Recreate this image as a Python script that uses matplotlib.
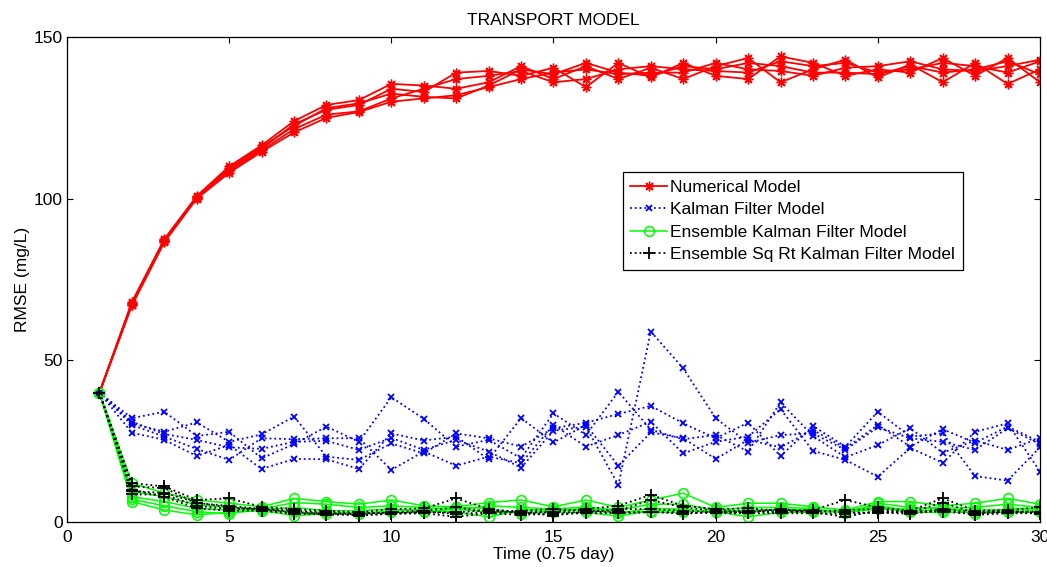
import matplotlib
matplotlib.use("Agg")
import matplotlib.pyplot as plt

plt.rcParams['font.family'] = ['Liberation Sans', 'DejaVu Sans']

# Time steps (units of 0.75 day)
time_steps = list(range(1, 31))

# RMSE (mg/L) of five runs for each model
numerical_runs = [
    [40, 68.0, 87.5, 100.8, 110.0, 116.5, 124.0, 129.0, 130.5, 135.5, 135.0, 134.0, 136.0, 141.0, 137.0,
     141.0, 137.0, 140.5, 137.0, 141.0, 143.5, 136.0, 140.0, 143.0, 137.5, 141.5, 136.0, 142.0, 135.5, 140.0],
    [40, 67.5, 87.0, 100.5, 109.0, 115.5, 123.0, 127.5, 129.0, 134.0, 133.0, 139.0, 139.5, 138.0, 140.5,
     134.5, 142.0, 137.5, 142.0, 138.0, 137.0, 144.0, 142.0, 138.0, 140.0, 139.0, 143.5, 138.0, 143.5, 136.0],
    [40, 67.0, 86.5, 100.0, 108.0, 114.5, 120.5, 125.0, 126.8, 130.0, 131.0, 132.0, 134.5, 137.0, 139.0,
     140.0, 138.5, 139.0, 139.0, 142.0, 140.0, 139.5, 138.0, 140.5, 141.0, 142.5, 140.0, 139.5, 141.0, 143.0],
    [40, 67.8, 87.2, 100.3, 108.5, 115.0, 121.5, 126.0, 127.0, 131.0, 134.0, 137.0, 138.0, 139.5, 136.0,
     137.0, 140.0, 141.0, 140.0, 139.5, 139.0, 142.5, 141.0, 142.0, 139.0, 140.0, 142.0, 141.0, 139.0, 142.5],
    [40, 67.2, 86.8, 100.6, 109.5, 116.0, 122.5, 128.0, 129.5, 132.5, 131.5, 131.0, 135.0, 140.0, 138.5,
     142.0, 139.0, 138.0, 141.0, 140.0, 142.0, 141.0, 139.0, 139.0, 138.5, 141.0, 139.0, 140.0, 142.5, 138.5],
]

kalman_runs = [
    [40, 31.0, 27.2, 25.4, 23.1, 22.6, 24.8, 25.1, 22.3, 26.0, 22.3, 25.4, 21.8, 16.8, 28.2,
     29.5, 11.4, 58.9, 47.5, 32.1, 24.5, 26.9, 27.4, 22.3, 29.3, 25.9, 24.8, 22.3, 29.0, 24.1],
    [40, 32.1, 34.1, 26.6, 27.9, 19.7, 24.1, 29.5, 24.8, 38.6, 31.9, 23.3, 25.4, 19.7, 33.6,
     26.9, 40.3, 28.5, 25.6, 26.9, 21.8, 37.0, 26.6, 20.0, 23.8, 29.0, 21.4, 25.2, 22.3, 25.9],
    [40, 30.5, 27.9, 30.8, 24.8, 27.1, 32.6, 20.2, 19.2, 24.3, 21.2, 27.4, 25.9, 23.3, 29.0,
     30.7, 33.4, 35.9, 30.5, 25.9, 30.7, 20.4, 29.7, 23.3, 34.1, 26.4, 27.4, 14.2, 12.8, 23.1],
    [40, 30.0, 26.4, 22.6, 19.2, 25.9, 25.6, 25.9, 25.9, 16.1, 21.8, 17.4, 20.2, 18.2, 30.0,
     23.3, 26.9, 31.0, 21.2, 24.8, 26.4, 34.9, 22.0, 19.2, 14.0, 22.9, 18.3, 27.9, 30.5, 15.6],
    [40, 27.6, 25.4, 20.4, 23.8, 16.4, 19.5, 19.4, 16.4, 27.4, 25.2, 26.4, 19.4, 32.1, 24.6,
     30.0, 17.4, 27.7, 25.9, 19.5, 25.4, 23.1, 28.5, 22.8, 30.0, 23.3, 28.7, 24.5, 29.5, 24.8],
]

enkf_runs = [
    [40, 12.0, 8.9, 6.8, 5.8, 4.7, 7.3, 6.3, 5.5, 6.8, 5.0, 4.7, 6.0, 6.8, 4.7,
     6.8, 4.5, 6.8, 8.9, 4.5, 5.8, 5.8, 4.7, 3.7, 6.3, 6.3, 5.0, 5.8, 7.3, 5.5],
    [40, 9.4, 7.8, 5.3, 4.5, 4.0, 6.0, 5.5, 4.5, 5.0, 4.5, 3.7, 5.0, 4.5, 4.0,
     4.7, 3.7, 5.5, 5.5, 3.7, 4.5, 4.5, 4.2, 2.7, 5.8, 4.5, 4.2, 4.5, 5.5, 4.5],
    [40, 7.8, 6.3, 4.2, 3.7, 3.7, 4.5, 3.5, 3.5, 4.0, 3.5, 3.0, 1.6, 3.7, 3.7,
     3.7, 2.7, 4.2, 4.0, 3.0, 3.7, 3.7, 3.5, 3.5, 5.0, 3.5, 3.7, 3.7, 3.7, 3.7],
    [40, 6.3, 3.7, 2.2, 3.0, 3.5, 2.0, 2.5, 3.0, 3.0, 3.0, 4.0, 3.0, 3.0, 3.0,
     3.0, 1.8, 3.5, 3.5, 3.2, 1.6, 3.0, 3.0, 3.2, 4.5, 3.0, 3.0, 3.0, 3.0, 3.0],
    [40, 7.0, 5.0, 3.2, 2.5, 4.2, 3.0, 3.0, 2.5, 3.5, 4.0, 4.5, 4.2, 2.5, 3.5,
     4.2, 3.2, 3.0, 3.0, 4.0, 3.0, 4.0, 3.7, 3.0, 4.0, 4.0, 4.5, 2.5, 4.2, 4.2],
]

ensrkf_runs = [
    [40, 12.0, 11.0, 6.8, 7.3, 4.7, 4.0, 3.5, 3.0, 4.0, 4.2, 7.3, 4.0, 3.0, 3.2,
     4.0, 5.0, 8.4, 5.0, 4.0, 4.2, 3.5, 3.7, 6.8, 4.5, 3.5, 7.3, 3.5, 3.7, 4.5],
    [40, 11.0, 10.5, 5.8, 5.0, 4.0, 3.0, 2.5, 2.5, 3.0, 3.5, 4.5, 3.2, 3.5, 4.0,
     3.5, 3.5, 6.8, 4.5, 3.5, 3.5, 3.0, 3.2, 3.7, 4.0, 3.0, 6.0, 2.7, 3.2, 3.2],
    [40, 10.0, 7.8, 4.2, 3.5, 3.5, 2.5, 2.7, 2.0, 2.5, 2.7, 1.6, 2.7, 2.2, 2.5,
     2.7, 2.7, 3.0, 3.0, 2.7, 2.7, 2.7, 2.7, 2.5, 3.0, 2.5, 3.7, 2.2, 2.7, 2.7],
    [40, 8.5, 8.5, 5.0, 4.0, 4.2, 3.5, 3.0, 2.8, 2.8, 3.0, 3.0, 3.7, 2.7, 3.0,
     3.0, 4.0, 4.0, 3.5, 3.0, 3.0, 4.0, 3.0, 1.6, 3.5, 3.0, 4.0, 3.0, 3.5, 2.5],
    [40, 9.5, 9.0, 6.0, 4.5, 3.8, 2.8, 2.2, 2.3, 2.5, 3.2, 2.5, 3.0, 3.0, 2.0,
     3.2, 3.0, 3.2, 2.5, 3.2, 3.2, 3.2, 3.5, 3.0, 2.8, 3.2, 3.2, 2.5, 3.0, 3.0],
]

model_labels = ["Numerical Model", "Kalman Filter Model",
                "Ensemble Kalman Filter Model", "Ensemble Sq Rt Kalman Filter Model"]

x_ticks = [0, 5, 10, 15, 20, 25, 30]
y_ticks = [0, 50, 100, 150]

FS = 12.5

fig = plt.figure(figsize=(10.47, 5.67), dpi=100)
ax = fig.add_axes([0.064, 0.0794, 0.9293, 0.8553])

styles = [
    dict(color=(1, 0, 0), linestyle='-', linewidth=1.3, marker=(8, 2, 0), markersize=7),
    dict(color=(0, 0, 1), linestyle=':', linewidth=1.3, marker='x', markersize=5, markeredgewidth=1.3),
    dict(color=(0, 1, 0), linestyle='-', linewidth=1.1, marker='o', markersize=7,
         markerfacecolor='none', markeredgewidth=1.1),
    dict(color=(0, 0, 0), linestyle=':', linewidth=1.3, marker='+', markersize=8, markeredgewidth=1.3),
]

handles = []
for runs, style, label in zip([numerical_runs, kalman_runs, enkf_runs, ensrkf_runs], styles, model_labels):
    first = None
    for run in runs:
        ln, = ax.plot(time_steps, run, **style)
        if first is None:
            first = ln
    first.set_label(label)
    handles.append(first)

ax.set_xlim(0, 30)
ax.set_ylim(0, 150)
ax.set_xticks(x_ticks)
ax.set_yticks(y_ticks)
ax.tick_params(direction='in', top=True, right=True, length=4, width=0.8, labelsize=FS)
ax.tick_params(axis='x', pad=6)
ax.tick_params(axis='y', pad=3)
for s in ax.spines.values():
    s.set_linewidth(0.9)

ax.set_title("TRANSPORT MODEL", fontsize=FS, pad=9)
ax.set_xlabel("Time (0.75 day)", fontsize=FS, labelpad=1)
ax.set_ylabel("RMSE (mg/L)", fontsize=FS, labelpad=3)

leg = ax.legend(handles=handles, loc='upper left', bbox_to_anchor=(0.571, 0.722),
                fontsize=FS, numpoints=1, handlelength=2.1, handletextpad=0.2,
                labelspacing=0.42, borderpad=0.45, borderaxespad=0,
                fancybox=False, framealpha=1, edgecolor='black')
leg.get_frame().set_linewidth(0.9)

fig.savefig("out.png", dpi=100)
